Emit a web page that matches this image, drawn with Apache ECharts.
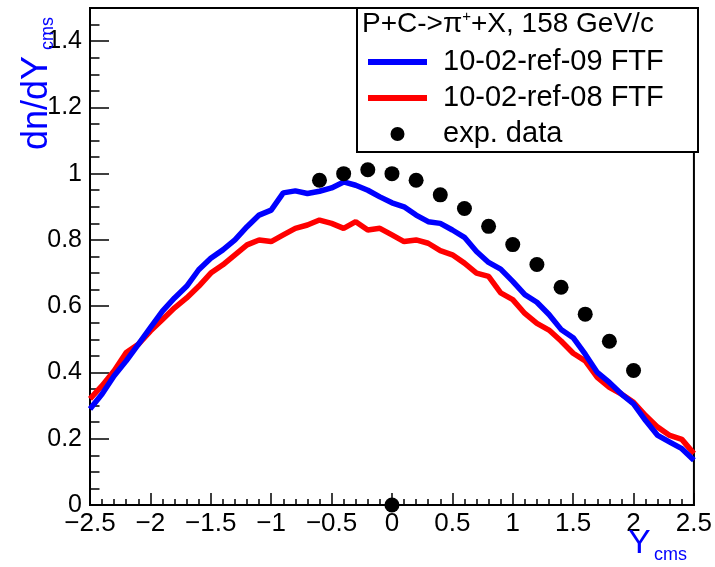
<!DOCTYPE html>
<html><head><meta charset="utf-8">
<script src="https://cdn.jsdelivr.net/npm/echarts@6/dist/echarts.min.js"></script>
<style>html,body{margin:0;padding:0;background:#fff}#c{width:715px;height:567px}</style>
</head><body><div id="c"></div>
<script>
// ---- data ----
const rapidity = [-2.5,-2.4,-2.3,-2.2,-2.1,-2.0,-1.9,-1.8,-1.7,-1.6,-1.5,-1.4,-1.3,-1.2,-1.1,-1.0,-0.9,-0.8,-0.7,-0.6,-0.5,-0.4,-0.3,-0.2,-0.1,0.0,0.1,0.2,0.3,0.4,0.5,0.6,0.7,0.8,0.9,1.0,1.1,1.2,1.3,1.4,1.5,1.6,1.7,1.8,1.9,2.0,2.1,2.2,2.3,2.4,2.5];
const ref09 = [0.29,0.335,0.39,0.435,0.485,0.535,0.585,0.625,0.66,0.71,0.745,0.77,0.80,0.84,0.875,0.89,0.942,0.948,0.94,0.947,0.957,0.975,0.965,0.95,0.93,0.912,0.90,0.875,0.855,0.85,0.83,0.808,0.765,0.732,0.712,0.675,0.635,0.612,0.575,0.53,0.505,0.455,0.40,0.37,0.335,0.305,0.255,0.21,0.19,0.17,0.135];
const ref08 = [0.32,0.36,0.405,0.46,0.485,0.525,0.56,0.595,0.625,0.66,0.70,0.725,0.755,0.785,0.80,0.795,0.815,0.835,0.845,0.86,0.85,0.835,0.855,0.83,0.835,0.815,0.795,0.80,0.79,0.768,0.755,0.73,0.70,0.69,0.64,0.62,0.578,0.548,0.528,0.495,0.458,0.435,0.385,0.355,0.335,0.31,0.27,0.235,0.21,0.198,0.155];
const expX = [-0.6,-0.4,-0.2,0.0,0.2,0.4,0.6,0.8,1.0,1.2,1.4,1.6,1.8,2.0,0.0];
const expY = [0.98,1.0,1.012,1.0,0.98,0.936,0.895,0.841,0.786,0.726,0.657,0.576,0.494,0.406,0.0];
const seriesNames = ['10-02-ref-09 FTF','10-02-ref-08 FTF','exp. data'];
const headerText = 'P+C->\u03c0{sup|+}+X, 158 GeV/c';
const xTitle = ['Y','cms'];
const yTitle = ['dn/dY','cms'];

const FONT = "'Liberation Sans', Arial, Helvetica, sans-serif";
const pair = (xs, ys) => xs.map((x, i) => [x, ys[i]]);
const fmt = v => { const r = Math.round(v * 10) / 10; return (r < 0 ? '\u2212' : '') + Math.abs(r); };

const chart = echarts.init(document.getElementById('c'), null, {renderer: 'canvas'});
chart.setOption({
  backgroundColor: '#fff',
  animation: false,
  grid: {left: 90, top: 8, right: 17, bottom: 62, show: true, borderColor: '#000', borderWidth: 2, backgroundColor: 'transparent'},
  xAxis: {
    type: 'value', min: -2.5, max: 2.5, interval: 0.5,
    axisLine: {show: true, onZero: false, lineStyle: {color: '#000', width: 2}},
    axisTick: {show: true, inside: true, length: 12, lineStyle: {color: '#000', width: 1.5}},
    minorTick: {show: true, splitNumber: 5, length: 6, lineStyle: {color: '#000', width: 1.5}},
    splitLine: {show: false}, minorSplitLine: {show: false},
    axisLabel: {fontSize: 26, color: '#000', margin: 6, fontFamily: FONT, formatter: fmt}
  },
  yAxis: [{
    // main axis: line + labels
    type: 'value', min: 0, max: 1.5, interval: 0.2, position: 'left',
    axisLine: {show: true, onZero: false, lineStyle: {color: '#000', width: 2}},
    axisTick: {show: false},
    splitLine: {show: false},
    axisLabel: {fontSize: 25, color: '#000', margin: 8, fontFamily: FONT,
      formatter: v => (v > 1.45 ? '' : String(Math.round(v * 10) / 10))}
  }, {
    // major ticks drawn inside the frame (helper axis shifted into the plot, ticks pointing back to the frame)
    type: 'value', min: 0, max: 1.5, interval: 0.2, position: 'left', offset: -19,
    axisLine: {show: true, onZero: false, lineStyle: {color: 'rgba(0,0,0,0)', width: 0}},
    axisTick: {show: true, inside: false, length: 19, lineStyle: {color: '#000', width: 1.5}},
    splitLine: {show: false},
    axisLabel: {show: false}
  }, {
    // minor ticks every 0.05
    type: 'value', min: 0, max: 1.5, interval: 0.05, position: 'left', offset: -9.5,
    axisLine: {show: true, onZero: false, lineStyle: {color: 'rgba(0,0,0,0)', width: 0}},
    axisTick: {show: true, inside: false, length: 9.5, lineStyle: {color: '#000', width: 1.5}},
    splitLine: {show: false},
    axisLabel: {show: false}
  }],
  legend: {
    orient: 'vertical', left: 368, top: 44, padding: 0, itemGap: 0,
    itemWidth: 59, itemHeight: 14, selectedMode: false, symbolKeepAspect: true,
    data: [
      {name: seriesNames[0], icon: 'path://M0,0L59,0L59,6L0,6Z'},
      {name: seriesNames[1], icon: 'path://M0,0L59,0L59,6L0,6Z'},
      {name: seriesNames[2], icon: 'circle', itemStyle: {opacity: 1}}
    ],
    textStyle: {fontSize: 29, color: '#000', fontFamily: FONT, lineHeight: 24, padding: [0, 0, 12, 11]}
  },
  graphic: [
    {type: 'rect', z: 1, shape: {x: 357, y: 8, width: 341, height: 144},
     style: {fill: '#fff', stroke: '#000', lineWidth: 2}},
    {type: 'text', z: 5, x: 362, y: 24,
     style: {text: headerText, fill: '#000', font: '28px ' + FONT, textAlign: 'left', textVerticalAlign: 'middle',
       rich: {sup: {fontSize: 15, fontFamily: FONT, fill: '#000', verticalAlign: 'top', lineHeight: 30}}}},
    {type: 'text', z: 5, x: 37, y: 150, rotation: Math.PI / 2,
     style: {text: yTitle[0], fill: '#0000ff', font: '36px ' + FONT, textAlign: 'left', textVerticalAlign: 'middle'}},
    {type: 'text', z: 5, x: 48, y: 50, rotation: Math.PI / 2,
     style: {text: yTitle[1], fill: '#0000ff', font: '18px ' + FONT, textAlign: 'left', textVerticalAlign: 'middle'}},
    {type: 'text', z: 5, x: 628, y: 544,
     style: {text: xTitle[0], fill: '#0000ff', font: '34px ' + FONT, textAlign: 'left', textVerticalAlign: 'middle'}},
    {type: 'text', z: 5, x: 654, y: 555,
     style: {text: xTitle[1], fill: '#0000ff', font: '18px ' + FONT, textAlign: 'left', textVerticalAlign: 'middle'}}
  ],
  series: [
    {name: seriesNames[1], type: 'line', yAxisIndex: 0, data: pair(rapidity, ref08), symbol: 'none', z: 2,
     lineStyle: {color: '#ff0000', width: 5.5}, itemStyle: {color: '#ff0000'}},
    {name: seriesNames[0], type: 'line', yAxisIndex: 0, data: pair(rapidity, ref09), symbol: 'none', z: 3,
     lineStyle: {color: '#0000ff', width: 5.5}, itemStyle: {color: '#0000ff'}},
    {name: seriesNames[2], type: 'scatter', yAxisIndex: 0, data: pair(expX, expY), symbol: 'circle', symbolSize: 15, z: 4,
     itemStyle: {color: '#000', opacity: 1}}
  ]
});
</script></body></html>
